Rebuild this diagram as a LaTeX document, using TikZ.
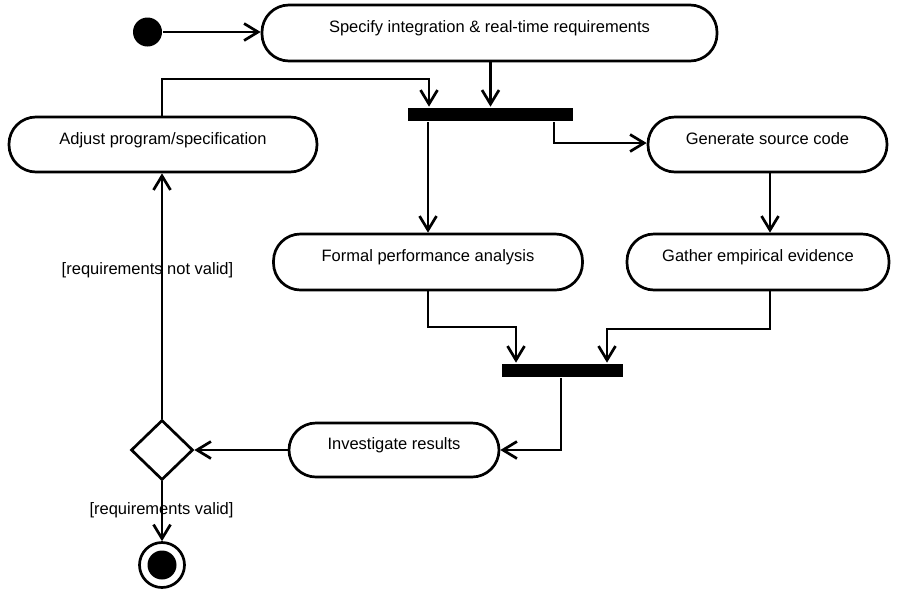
\documentclass[tikz,border=0pt]{standalone}
\usepackage{fontspec}
\setmainfont{Liberation Sans}
\usetikzlibrary{arrows.meta,shapes.geometric}
\begin{document}
\begin{tikzpicture}[x=1pt,y=-1pt,
  line width=2.7pt,
  every node/.style={font=\fontsize{16.5}{19}\selectfont},
  act/.style={draw, rectangle, rounded corners=27pt, inner sep=0pt, text height=12pt, text depth=13pt},
  bar/.style={fill=black, draw=none, rectangle, inner sep=0pt, minimum height=13pt},
  flow/.style={-{Straight Barb[length=14pt,width=17pt,line width=2.7pt]}},
  guard/.style={anchor=base, inner sep=0pt}]
\useasboundingbox (0,0) rectangle (904,590);
% nodes
\node[circle, fill=black, inner sep=0pt, minimum size=29pt] (start) at (147.5,32) {};
\node[act, minimum width=455pt, minimum height=56pt] (spec) at (489.5,33) {Specify integration \& real-time requirements};
\node[bar, minimum width=165pt] (fork) at (490.5,114.5) {};
\node[act, minimum width=308pt, minimum height=55pt] (adjust) at (163,144.5) {Adjust program/specification};
\node[act, minimum width=239pt, minimum height=55pt] (gen) at (767.5,144.5) {Generate source code};
\node[act, minimum width=309pt, minimum height=56pt] (formal) at (428,262) {Formal performance analysis};
\node[act, minimum width=262pt, minimum height=56pt] (gather) at (758,262) {Gather empirical evidence};
\node[bar, minimum width=121pt] (join) at (562.5,370.5) {};
\node[act, minimum width=210pt, minimum height=54pt] (inv) at (394,450) {Investigate results};
\node[diamond, draw, aspect=1, inner sep=0pt, minimum width=62pt, minimum height=60pt] (dec) at (162,450) {};
\node[circle, draw, inner sep=0pt, minimum size=45pt] (final) at (162,565) {};
\node[circle, fill=black, inner sep=0pt, minimum size=29pt] (finalin) at (162,565) {};
% helper coordinates
\coordinate (loopA) at (162,79);
\coordinate (loopB) at (429,79);
\coordinate (fR) at (554,143);
\coordinate (fmA) at (428,327);
\coordinate (fmB) at (516,327);
\coordinate (gaA) at (770,329);
\coordinate (gaB) at (607,329);
\coordinate (jB) at (561,450);
% connectors
\draw[flow] (start) -- (spec.west |- start);
\draw[flow] (spec.south -| fork.north) -- (fork.north);
\draw[flow] (adjust.north -| loopA) -- (loopA) -- (loopB) -- (loopB |- fork.north);
\draw[flow] (fork.south -| formal.north) -- (formal.north);
\draw[flow] (fork.south -| fR) -- (fR) -- (fR -| gen.west);
\draw[flow] (gen.south -| gaA) -- (gather.north -| gaA);
\draw[flow] (formal.south -| fmA) -- (fmA) -- (fmB) -- (fmB |- join.north);
\draw[flow] (gather.south -| gaA) -- (gaA) -- (gaB) -- (gaB |- join.north);
\draw[flow] (join.south -| jB) -- (jB) -- (inv.east);
\draw[flow] (inv.west) -- (dec.east);
\draw[flow] (dec.north) -- (adjust.south -| dec.north);
\draw[flow] (dec.south) -- (final.north);
% guards
\node[guard] (g1) at (147.5,274) {[requirements not valid]};
\node[guard] (g2) at (161.5,514) {[requirements valid]};
\end{tikzpicture}
\end{document}
